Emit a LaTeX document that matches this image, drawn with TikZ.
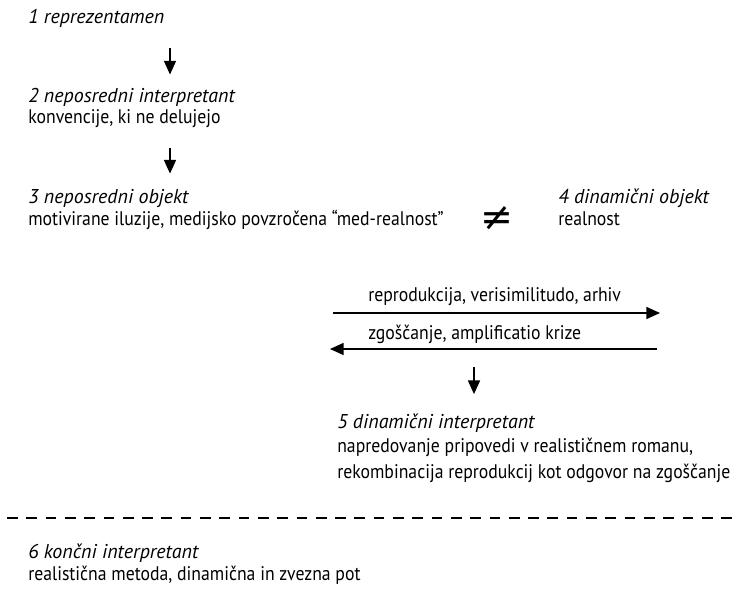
\documentclass[tikz,border=0pt]{standalone}
\usepackage{fontspec}
\setmainfont{PT Sans}
\newfontfamily\condfont{PT Sans}[FakeStretch=0.9]
\newfontfamily\symfont{DejaVu Sans}
\usetikzlibrary{arrows.meta, positioning}

\begin{document}
\begin{tikzpicture}[x=0.025cm, y=-0.025cm,
    title/.style={anchor=base west, inner sep=0pt, font=\itshape\fontsize{14.2}{16}\selectfont},
    desc/.style={anchor=base west, inner sep=0pt, font=\condfont\fontsize{14}{16}\selectfont},
    arrow/.style={-{Triangle[length=3.4mm, width=3mm]}, line width=1pt},
    divider/.style={line width=1.5pt}
]
\useasboundingbox (0,0) rectangle (738,596);

\node[title] (rep) at (28,24) {1 reprezentamen};

\node[title] (neposint) at (28,103) {2 neposredni interpretant};
\node[desc] (neposintd) at (28,124) {konvencije, ki ne delujejo};

\node[title] (neposobj) at (28,204) {3 neposredni objekt};
\node[desc] (neposobjd) at (28,226) {motivirane iluzije, medijsko povzročena “med-realnost”};

\node[font=\symfont\fontsize{28}{30}\selectfont, inner sep=0pt] (neq) at (497,219) {≠};

\node[title] (dinobj) at (558,204) {4 dinamični objekt};
\node[desc] (dinobjd) at (558,226) {realnost};

\coordinate (r1) at (333,313);
\coordinate (r2) at (660,313);
\coordinate (l1) at (657,349);
\coordinate (l2) at (330,349);

\node[desc] (repro) at (368,302) {reprodukcija, verisimilitudo, arhiv};
\node[desc] (zgosc) at (368,340) {zgoščanje, amplificatio krize};

\node[title] (dinint) at (337,429) {5 dinamični interpretant};
\node[desc] (dinintd) at (337,453) {napredovanje pripovedi v realističnem romanu,};
\node[desc] (dinintdd) at (337,479) {rekombinacija reprodukcij kot odgovor na zgoščanje};

\node[title] (koncint) at (28,559) {6 končni interpretant};
\node[desc] (koncintd) at (28,581) {realistična metoda, dinamična in zvezna pot};

\coordinate (ax) at (170,0);
\coordinate (bx) at (474,0);

\draw[arrow, shorten <=0.5cm, shorten >=0.35cm] (rep.south -| ax) -- (neposint.north -| ax);
\draw[arrow, shorten <=0.5cm, shorten >=0.4cm] (neposintd.south -| ax) -- (neposobj.north -| ax);
\draw[arrow] (r1) -- (r2);
\draw[arrow] (l1) -- (l2);
\draw[arrow, shorten <=0.45cm, shorten >=0.5cm] (l1 -| bx) -- (dinint.north -| bx);

% dashed divider
\foreach \i in {0,...,37}
  \draw[divider] (7+\i*19.3,518) -- ++(10.7,0);
\end{tikzpicture}
\end{document}
